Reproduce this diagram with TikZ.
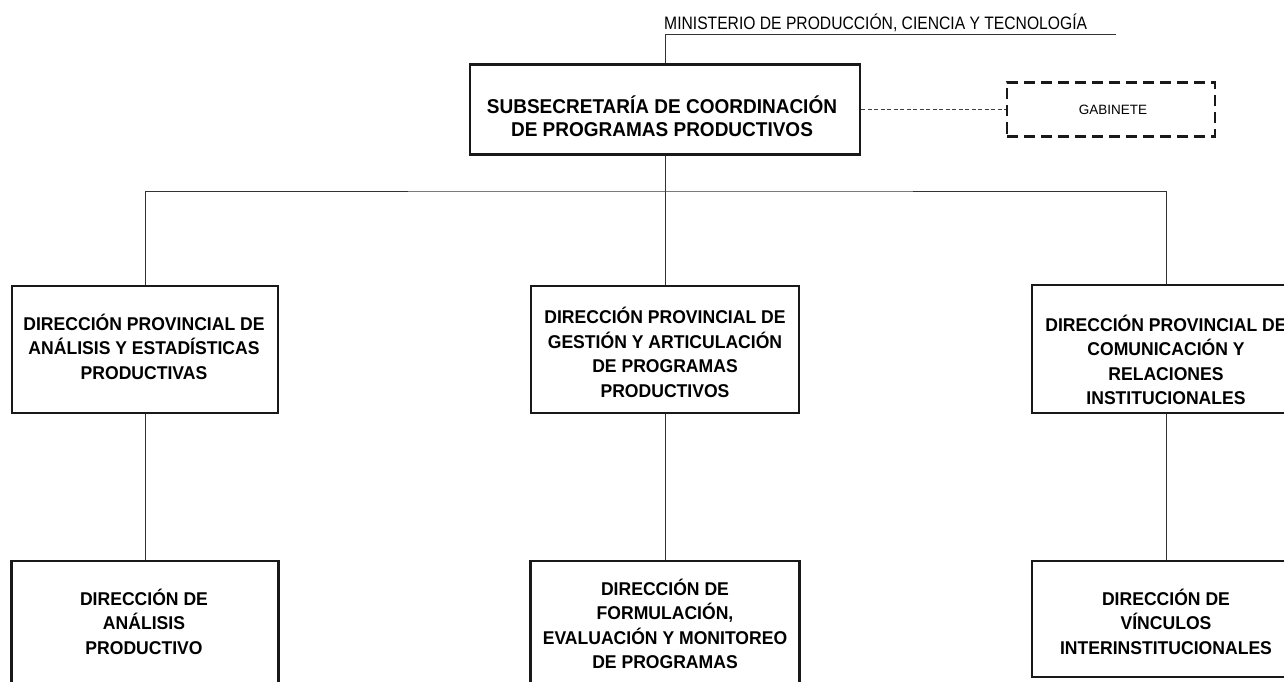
\documentclass[tikz,border=0pt]{standalone}
\usepackage{fontspec}
\setmainfont{Liberation Sans}
\newfontfamily\narrowfont[FakeStretch=0.87]{Liberation Sans}
\newfontfamily\boxfont[FakeStretch=0.95]{Liberation Sans}
\begin{document}
\begin{tikzpicture}[x=1pt,y=-1pt,
  box/.style={draw=black!90, line width=2.8pt, inner sep=0pt, fill=white},
  gabbox/.style={draw=black!90, line width=2.8pt, inner sep=0pt, dash pattern=on 11pt off 6pt},
  conn/.style={draw=black!80, line width=1pt},
  dconn/.style={draw=black!75, line width=0.8pt, dash pattern=on 4pt off 2.5pt},
  boxtext/.style={inner sep=0pt, anchor=north, align=center, font=\boxfont\fontsize{18.5}{24.5}\selectfont\bfseries},
  titletext/.style={inner sep=0pt, anchor=north, align=center, font=\boxfont\fontsize{20}{23.5}\selectfont\bfseries}
]
\useasboundingbox (0,0) rectangle (1284,682);
\clip (0,0) rectangle (1284,682);
\fill[white] (0,0) rectangle (1284,682);

% boxes
\node[box, minimum width=390, minimum height=90] (top) at (665,109.5) {};
\node[gabbox, minimum width=208, minimum height=54] (gab) at (1111,109.5) {};
\node[box, minimum width=266, minimum height=127] (leftP) at (145,349.5) {};
\node[box, minimum width=268, minimum height=127] (midP) at (665,349.5) {};
\node[box, minimum width=268, minimum height=128] (rightP) at (1166,349) {};
\node[box, minimum width=267, minimum height=139] (leftB) at (145,630.5) {};
\node[box, minimum width=269, minimum height=139] (midB) at (665,630.5) {};
\node[box, minimum width=268, minimum height=116] (rightB) at (1166,619) {};

% texts
\node[inner sep=0pt, anchor=base west, font=\narrowfont\fontsize{18}{20}\selectfont] (min) at (664,30) {MINISTERIO DE PRODUCCIÓN, CIENCIA Y TECNOLOGÍA};
\node[titletext] (toptext) at (662,93) {\rule{0pt}{20pt}SUBSECRETARÍA DE COORDINACIÓN\\DE PROGRAMAS PRODUCTIVOS};
\node[inner sep=0pt, anchor=base, font=\fontsize{13.5}{15}\selectfont] (gabtext) at (1113,115) {GABINETE};
\node[boxtext] (leftPtext) at (144,312) {\rule{0pt}{18pt}DIRECCIÓN PROVINCIAL DE\\ANÁLISIS Y ESTADÍSTICAS\\PRODUCTIVAS};
\node[boxtext] (midPtext) at (665,305.5) {\rule{0pt}{18pt}DIRECCIÓN PROVINCIAL DE\\GESTIÓN Y ARTICULACIÓN\\DE PROGRAMAS\\PRODUCTIVOS};
\node[boxtext] (rightPtext) at (1166,313) {\rule{0pt}{18pt}DIRECCIÓN PROVINCIAL DE\\COMUNICACIÓN Y\\RELACIONES\\INSTITUCIONALES};
\node[boxtext] (leftBtext) at (144,587) {\rule{0pt}{18pt}DIRECCIÓN DE\\ANÁLISIS\\PRODUCTIVO};
\node[boxtext] (midBtext) at (665,577) {\rule{0pt}{18pt}DIRECCIÓN DE\\FORMULACIÓN,\\EVALUACIÓN Y MONITOREO\\DE PROGRAMAS};
\node[boxtext] (rightBtext) at (1166,587) {\rule{0pt}{18pt}DIRECCIÓN DE\\VÍNCULOS\\INTERINSTITUCIONALES};

% connectors
\coordinate (minL) at (665,35);
\coordinate (minR) at (1116,35);
\coordinate (bar) at (665,191);
\draw[conn] (top.north) -- (minL) -- (minR);
\draw[conn] (top.south) -- (bar) -- (midP.north);
\draw[conn] (leftP.north) |- (bar) -| (rightP.north);
\draw[conn] (leftP.south) -- (leftB.north);
\draw[conn] (midP.south) -- (midB.north);
\draw[conn] (rightP.south) -- (rightB.north);
\draw[dconn] (top.east) -- (gab.west);
\end{tikzpicture}
\end{document}
